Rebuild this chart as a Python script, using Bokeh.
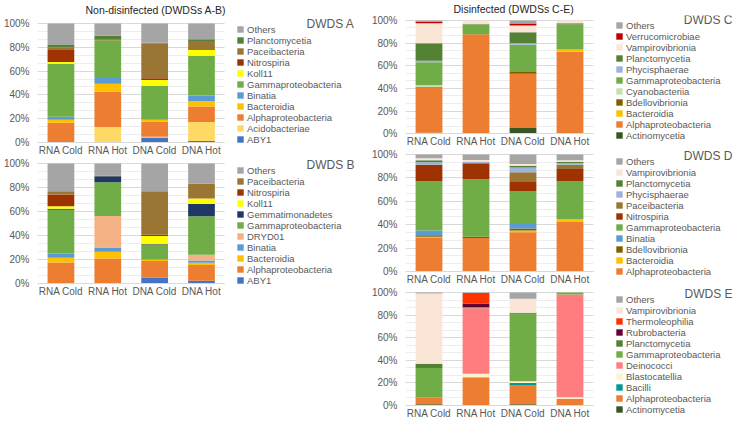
from bokeh.plotting import figure
from bokeh.models import (FactorRange, Range1d, Legend, LegendItem, Label,
                          NumeralTickFormatter, SingleIntervalTicker, ColumnDataSource)
from bokeh.layouts import row, column
from bokeh.embed import file_html
from bokeh.resources import INLINE

categories = ["RNA Cold", "RNA Hot", "DNA Cold", "DNA Hot"]
spacers = [" ", "  ", "   "]   # empty slots that hold the legend area

left_title = "Non-disinfected (DWDSs A-B)"
right_title = "Disinfected (DWDSs C-E)"

# taxa listed bottom -> top of stack; values in percent per category
A_taxa = ["ABY1", "Acidobacteriae", "Alphaproteobacteria", "Bacteroidia", "Binatia",
          "Gammaproteobacteria", "Koll11", "Nitrospiria", "Paceibacteria", "Planctomycetia", "Others"]
A_values = {
    "ABY1":                [0.0, 0.0, 4.2, 1.4],
    "Acidobacteriae":      [0.6, 13.0, 0.8, 15.8],
    "Alphaproteobacteria": [16.0, 29.9, 12.7, 13.0],
    "Bacteroidia":         [2.5, 6.4, 1.4, 4.4],
    "Binatia":             [2.5, 5.0, 0.0, 5.0],
    "Gammaproteobacteria": [44.6, 31.3, 28.5, 33.2],
    "Koll11":              [1.4, 0.0, 5.0, 5.0],
    "Nitrospiria":         [10.2, 0.0, 1.4, 0.0],
    "Paceibacteria":       [2.2, 0.8, 29.1, 7.5],
    "Planctomycetia":      [2.0, 3.3, 0.8, 1.4],
    "Others":              [18.0, 10.3, 16.1, 13.3],
}

B_taxa = ["ABY1", "Alphaproteobacteria", "Bacteroidia", "Binatia", "DRYD01",
          "Gammaproteobacteria", "Gemmatimonadetes", "Koll11", "Nitrospiria", "Paceibacteria", "Others"]
B_values = {
    "ABY1":                [0.0, 0.0, 4.9, 2.2],
    "Alphaproteobacteria": [17.6, 20.9, 13.8, 13.2],
    "Bacteroidia":         [3.8, 5.5, 1.1, 1.9],
    "Binatia":             [3.6, 3.5, 0.5, 1.9],
    "DRYD01":              [0.0, 26.4, 0.0, 4.7],
    "Gammaproteobacteria": [36.5, 28.0, 11.6, 32.1],
    "Gemmatimonadetes":    [0.8, 5.0, 0.8, 10.2],
    "Koll11":              [2.0, 0.0, 6.9, 4.7],
    "Nitrospiria":         [9.9, 0.0, 1.1, 0.0],
    "Paceibacteria":       [2.7, 0.6, 36.2, 12.3],
    "Others":              [23.1, 10.1, 23.1, 16.8],
}

C_taxa = ["Actinomycetia", "Alphaproteobacteria", "Bacteroidia", "Bdellovibrionia", "Cyanobacteriia",
          "Gammaproteobacteria", "Phycisphaerae", "Planctomycetia", "Vampirovibrionia", "Verrucomicrobiae", "Others"]
C_values = {
    "Actinomycetia":       [0.8, 0.0, 5.1, 0.0],
    "Alphaproteobacteria": [39.9, 87.7, 47.9, 72.4],
    "Bacteroidia":         [0.0, 0.0, 0.0, 2.0],
    "Bdellovibrionia":     [0.5, 0.0, 1.4, 0.0],
    "Cyanobacteriia":      [1.5, 0.0, 0.0, 0.0],
    "Gammaproteobacteria": [20.3, 8.3, 24.2, 21.9],
    "Phycisphaerae":       [1.4, 0.0, 1.2, 0.0],
    "Planctomycetia":      [15.4, 0.6, 9.7, 1.1],
    "Vampirovibrionia":    [17.6, 3.4, 6.0, 2.6],
    "Verrucomicrobiae":    [1.2, 0.0, 1.7, 0.0],
    "Others":              [1.4, 0.0, 2.8, 0.0],
}

D_taxa = ["Alphaproteobacteria", "Bacteroidia", "Bdellovibrionia", "Binatia", "Gammaproteobacteria",
          "Nitrospiria", "Paceibacteria", "Phycisphaerae", "Planctomycetia", "Vampirovibrionia", "Others"]
D_values = {
    "Alphaproteobacteria": [28.7, 28.7, 33.6, 42.4],
    "Bacteroidia":         [1.1, 0.0, 1.4, 2.5],
    "Bdellovibrionia":     [1.1, 1.1, 1.7, 0.0],
    "Binatia":             [4.1, 0.0, 3.9, 0.0],
    "Gammaproteobacteria": [42.4, 49.0, 28.1, 32.2],
    "Nitrospiria":         [13.8, 13.8, 7.7, 10.5],
    "Paceibacteria":       [0.0, 0.0, 8.5, 3.6],
    "Phycisphaerae":       [2.2, 1.4, 3.9, 1.4],
    "Planctomycetia":      [1.6, 0.0, 1.6, 1.1],
    "Vampirovibrionia":    [1.7, 1.4, 1.4, 1.4],
    "Others":              [3.3, 4.6, 8.2, 4.9],
}

E_taxa = ["Actinomycetia", "Alphaproteobacteria", "Bacilli", "Blastocatellia", "Deinococci",
          "Gammaproteobacteria", "Planctomycetia", "Rubrobacteria", "Thermoleophilia", "Vampirovibrionia", "Others"]
E_values = {
    "Actinomycetia":       [1.1, 0.0, 1.1, 0.0],
    "Alphaproteobacteria": [5.9, 25.1, 16.7, 5.8],
    "Bacilli":             [0.0, 0.0, 2.2, 0.0],
    "Blastocatellia":      [0.0, 3.0, 1.4, 1.4],
    "Deinococci":          [0.0, 58.0, 0.0, 91.1],
    "Gammaproteobacteria": [26.1, 0.8, 59.9, 1.7],
    "Planctomycetia":      [3.9, 0.0, 0.8, 0.0],
    "Rubrobacteria":       [0.0, 3.3, 0.0, 0.0],
    "Thermoleophilia":     [0.0, 9.3, 0.0, 0.0],
    "Vampirovibrionia":    [62.2, 0.0, 12.3, 0.0],
    "Others":              [0.8, 0.5, 5.6, 0.0],
}

COLORS = {
    "Others": "#A5A5A5",
    "Planctomycetia": "#548235",
    "Paceibacteria": "#9A7534",
    "Nitrospiria": "#9E3200",
    "Koll11": "#FFFF00",
    "Gammaproteobacteria": "#70AD47",
    "Binatia": "#5B9BD5",
    "Bacteroidia": "#FFC000",
    "Alphaproteobacteria": "#ED7D31",
    "Acidobacteriae": "#FFD966",
    "ABY1": "#4472C4",
    "Gemmatimonadetes": "#203864",
    "DRYD01": "#F4B183",
    "Verrucomicrobiae": "#C00000",
    "Vampirovibrionia": "#FBE5D6",
    "Phycisphaerae": "#9DB3DE",
    "Cyanobacteriia": "#C5E0B4",
    "Bdellovibrionia": "#7F6000",
    "Actinomycetia": "#375623",
    "Thermoleophilia": "#FF3300",
    "Rubrobacteria": "#660033",
    "Deinococci": "#FF7C80",
    "Blastocatellia": "#FFF2CC",
    "Bacilli": "#009999",
}

FONT = "Liberation Sans"
TICK_COLOR = "#595959"
EXT = 14        # pixels of frame below the 0% line, holding the category labels
LEGEND_H = 122  # 11 legend rows


def make_panel(taxa, values, name, width, left, border_top, plot_h, pad, title=None,
               title_offset=48, title_standoff=2, legend_x=199, label_x=317):
    frame_h = EXT + plot_h + pad
    height = border_top + frame_h
    n = len(categories)
    src = {"cat": categories}
    for t in taxa:
        src[t] = [v / 100.0 for v in values[t]]
    source = ColumnDataSource(src)
    p = figure(x_range=FactorRange(*(categories + spacers)),
               y_range=Range1d(-EXT / plot_h, 1 + pad / plot_h),
               width=width, height=height, output_backend="svg", toolbar_location=None,
               title=title, min_border_left=left, min_border_right=0,
               min_border_top=border_top, min_border_bottom=0)
    if title is not None:
        p.title.align = "left"
        p.title.offset = title_offset
        p.title.text_font = FONT
        p.title.text_font_size = "10.5px"
        p.title.text_font_style = "normal"
        p.title.text_color = "#262626"
        p.title.standoff = title_standoff
    renderers = p.vbar_stack(taxa, x="cat", width=0.57, source=source,
                             fill_color=[COLORS[t] for t in taxa], line_color=None)
    p.outline_line_color = None
    p.xgrid.grid_line_color = None
    ticker = SingleIntervalTicker(interval=0.2, num_minor_ticks=3)
    p.yaxis.ticker = ticker
    p.yaxis.formatter = NumeralTickFormatter(format="0%")
    p.yaxis.bounds = (0, 1)
    g = p.ygrid[0]
    g.ticker = ticker
    g.bounds = (0, 1)
    if "cross_bounds" in g.properties():
        g.cross_bounds = (0, n)
    g.grid_line_color = "#D9D9D9"
    g.minor_grid_line_color = "#EDEDED"
    for ax in (p.xaxis, p.yaxis):
        ax.major_tick_line_color = None
        ax.minor_tick_line_color = None
        ax.major_tick_out = 0
        ax.major_tick_in = 0
        ax.minor_tick_out = 0
        ax.minor_tick_in = 0
        ax.axis_label_standoff = 0
        ax.major_label_text_font = FONT
        ax.major_label_text_font_size = "10px"
        ax.major_label_text_color = TICK_COLOR
    p.yaxis.axis_line_color = None
    p.yaxis.major_label_standoff = 8
    p.xaxis.fixed_location = 0
    p.xaxis.axis_line_color = "#D9D9D9"
    p.xaxis.bounds = (0, n)
    p.xaxis.major_label_overrides = {s: "" for s in spacers}
    p.xaxis.major_label_standoff = 2

    items = [LegendItem(label=t, renderers=[r]) for t, r in zip(taxa, renderers)][::-1]
    legend = Legend(items=items, location=(legend_x, EXT + plot_h - 0.5 - LEGEND_H),
                    label_text_font=FONT, label_text_font_size="9.5px",
                    label_text_color=TICK_COLOR, glyph_width=8, glyph_height=8,
                    label_height=10, spacing=0, padding=0, margin=0,
                    label_standoff=3, border_line_color=None, background_fill_alpha=0)
    p.add_layout(legend)
    label_y = EXT + plot_h + pad - max(6.5, pad + 1)
    p.add_layout(Label(x=label_x, y=label_y, x_units="screen", y_units="screen",
                       text=name, text_align="right", text_baseline="middle",
                       text_font=FONT, text_font_size="12px", text_color=TICK_COLOR))
    return p


pA = make_panel(A_taxa, A_values, "DWDS A", 365, 34, 15, 120, 7, title=left_title,
                title_offset=48, title_standoff=2, legend_x=199, label_x=317)
pB = make_panel(B_taxa, B_values, "DWDS B", 365, 34, 0, 120, 7,
                legend_x=199, label_x=317)
pC = make_panel(C_taxa, C_values, "DWDS C", 369, 40, 13, 115, 5, title=right_title,
                title_offset=48, title_standoff=1, legend_x=210, label_x=327)
pD = make_panel(D_taxa, D_values, "DWDS D", 369, 40, 0, 117, 7,
                legend_x=210, label_x=327)
pE = make_panel(E_taxa, E_values, "DWDS E", 369, 40, 0, 113, 7,
                legend_x=210, label_x=327)

layout = row(column(pA, pB), column(pC, pD, pE))

open("out.html", "w").write(file_html(layout, INLINE))
